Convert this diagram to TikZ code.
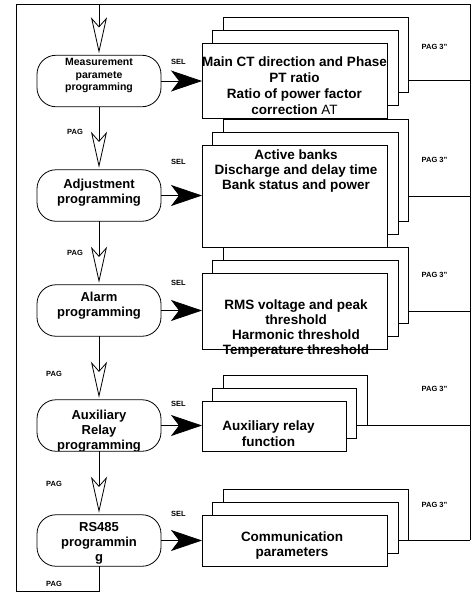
\documentclass[tikz,border=0pt]{standalone}
\usepackage{fontspec}
\setmainfont{Liberation Sans}
\usetikzlibrary{arrows.meta}
\newcommand{\cardstack}[5]{%
  \node[card, minimum width=#4pt, minimum height=#5pt] (#1b) at (#2+21,#3-26) {};
  \node[card, minimum width=#4pt, minimum height=#5pt] (#1m) at (#2+10.5,#3-13) {};
  \node[card, minimum width=#4pt, minimum height=#5pt] (#1f) at (#2,#3) {};
}
\begin{document}
\begin{tikzpicture}[x=1pt,y=-1pt,
  line width=0.8pt,
  proc/.style={draw, rounded corners=19pt, minimum width=124pt, minimum height=51.5pt, inner sep=0pt, outer sep=0pt},
  proctxt/.style={align=center, font=\fontsize{13}{15}\selectfont\bfseries, inner sep=0pt},
  card/.style={draw, fill=white, inner sep=0pt, outer sep=0pt, anchor=north west},
  cardtxt/.style={align=center, font=\fontsize{13.5}{15.5}\selectfont\bfseries, inner sep=0pt},
  tag/.style={font=\fontsize{7.5}{9}\selectfont\bfseries, inner sep=0pt},
  pagarrow/.style={-{Stealth[open, length=36pt, width=16pt, inset=9pt]}, shorten >=2pt},
  selarrow/.style={-{Stealth[length=31pt, width=21pt, inset=8pt]}},
]
\useasboundingbox (0,0) rectangle (473,592);

% rail coordinates
\coordinate (tl) at (16,4);
\coordinate (tc) at (99,4);
\coordinate (tr) at (470,4);
\coordinate (bl) at (16,591);
\coordinate (bc) at (99,591);
\coordinate (r1) at (470,80);
\coordinate (r2) at (470,196);
\coordinate (r3) at (470,311);
\coordinate (r4) at (470,425);
\coordinate (r5) at (470,540);

% process texts
\node[proctxt, font=\fontsize{10.5}{12.5}\selectfont\bfseries] (n1t) at (99,75.5) {Measurement\\paramete\\programming};
\node[proctxt] (n2t) at (99,193) {Adjustment\\programming};
\node[proctxt] (n3t) at (99,306) {Alarm\\programming};
\begin{scope}
  \clip (37,400) rectangle (161,450.6);
  \node[proctxt] (n4t) at (99,431.5) {Auxiliary\\Relay\\programming};
\end{scope}
\node[proctxt] (n5t) at (99,543) {RS485\\programmin\\g};

% process nodes
\node[proc] (n1) at (99,81) {};
\node[proc] (n2) at (99,195.5) {};
\node[proc] (n3) at (99,310.5) {};
\node[proc] (n4) at (99,425.5) {};
\node[proc] (n5) at (99,540.5) {};

% card stacks
\cardstack{s1}{202}{43}{185.5}{75.5}
\cardstack{s2}{202}{145}{185.5}{102}
\cardstack{s3}{202}{273}{185.5}{76}
\cardstack{s4}{202}{401}{144}{50}
\cardstack{s5}{202}{515}{185.5}{51}

% card texts
\node[cardtxt, font=\fontsize{13.5}{16}\selectfont\bfseries] (c1) at (294.5,85.8) {Main CT direction and Phase\\PT ratio\\Ratio of power factor\\correction \textmd{AT}};
\node[cardtxt, font=\fontsize{13.5}{15}\selectfont\bfseries] (c2) at (296,171) {Active banks\\Discharge and delay time\\Bank status and power};
\node[cardtxt, font=\fontsize{13.5}{15}\selectfont\bfseries] (c3) at (296,328.5) {RMS voltage and peak\\threshold\\Harmonic threshold\\Temperature threshold};
\node[cardtxt, font=\fontsize{13.5}{16}\selectfont\bfseries] (c4) at (268.5,433.7) {Auxiliary relay\\function};
\node[cardtxt, font=\fontsize{13.5}{15}\selectfont\bfseries] (c5) at (292,545.5) {Communication\\parameters};

% loop rail
\draw (n5.south) -- (bc) -- (bl) -- (tl) -- (tr) -- (r5);

% PAG arrows
\draw[pagarrow] (tc) -- (n1.north);
\draw[pagarrow] (n1.south) -- (n2.north);
\draw[pagarrow] (n2.south) -- (n3.north);
\draw[pagarrow] (n3.south) -- (n4.north);
\draw[pagarrow] (n4.south) -- (n5.north);

% SEL arrows
\draw[selarrow] (n1.east) -- (n1.east -| s1f.west);
\draw[selarrow] (n2.east) -- (n2.east -| s2f.west);
\draw[selarrow] (n3.east) -- (n3.east -| s3f.west);
\draw[selarrow] (n4.east) -- (n4.east -| s4f.west);
\draw[selarrow] (n5.east) -- (n5.east -| s5f.west);

% return lines to rail
\draw (r1 -| s1b.east) -- (r1);
\draw (r2 -| s2b.east) -- (r2);
\draw (r3 -| s3b.east) -- (r3);
\draw (s4b.south east) -- (r4);
\draw (s5b.south east) -- (r5);

% labels
\node[tag] (sel1) at (178.5,62) {SEL};
\node[tag] (sel2) at (178.5,162) {SEL};
\node[tag] (sel3) at (178.5,283) {SEL};
\node[tag] (sel4) at (178.5,404) {SEL};
\node[tag] (sel5) at (178.5,514) {SEL};
\node[tag] (pag1) at (75,132) {PAG};
\node[tag] (pag2) at (75,253) {PAG};
\node[tag] (pag3) at (54,374) {PAG};
\node[tag] (pag4) at (54,484) {PAG};
\node[tag] (pag5) at (54,584) {PAG};
\node[tag] (p31) at (434.5,47) {PAG 3"};
\node[tag] (p32) at (434.5,160) {PAG 3"};
\node[tag] (p33) at (434.5,275) {PAG 3"};
\node[tag] (p34) at (434.5,389) {PAG 3"};
\node[tag] (p35) at (434.5,505) {PAG 3"};
\end{tikzpicture}
\end{document}
